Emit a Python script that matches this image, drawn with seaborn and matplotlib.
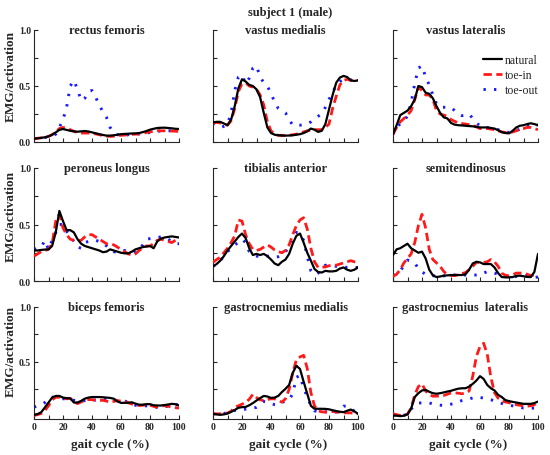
import numpy as np
import matplotlib
matplotlib.use("Agg")
import matplotlib.pyplot as plt
import seaborn as sns
from matplotlib.ticker import FixedLocator

# === Data (EMG / activation) ===
gait = np.arange(0, 100.1, 2.5)  # gait cycle (%)

rf_nat = [.030,.033,.037,.042,.050,.065,.086,.108,.116,.108,.100,.095,.092,.095,.098,.094,.086,.078,.070,.063,.057,.057,.060,.065,.070,.072,.074,.076,.077,.080,.088,.098,.110,.118,.125,.127,.128,.125,.122,.118,.116]
rf_in = [.030,.033,.037,.042,.050,.065,.090,.120,.130,.125,.110,.095,.085,.080,.080,.080,.078,.072,.065,.058,.052,.050,.052,.055,.060,.062,.065,.068,.070,.072,.078,.085,.090,.095,.100,.100,.100,.100,.098,.096,.095]
rf_out = [.030,.032,.035,.040,.045,.050,.070,.130,.200,.310,.500,.550,.470,.370,.390,.450,.460,.400,.330,.270,.220,.130,.080,.065,.060,.060,.065,.070,.070,.072,.075,.080,.085,.090,.095,.100,.100,.100,.100,.100,.100]

vm_nat = [.175,.180,.180,.165,.150,.200,.320,.480,.560,.540,.510,.500,.470,.400,.260,.130,.080,.065,.060,.058,.057,.058,.060,.065,.070,.080,.095,.120,.110,.090,.100,.160,.290,.420,.530,.575,.590,.580,.550,.545,.550]
vm_in = [.170,.175,.170,.160,.150,.190,.300,.450,.520,.530,.500,.490,.470,.420,.330,.180,.100,.070,.060,.058,.058,.060,.065,.070,.080,.090,.100,.105,.110,.110,.110,.130,.160,.300,.410,.510,.550,.560,.550,.550,.550]
vm_out = [.170,.150,.130,.140,.155,.260,.460,.580,.600,.520,.570,.660,.680,.580,.530,.500,.430,.360,.300,.280,.260,.200,.150,.150,.150,.155,.160,.180,.210,.230,.250,.310,.380,.440,.510,.540,.555,.560,.555,.550,.540]

vl_nat = [.070,.150,.240,.260,.280,.320,.380,.500,.490,.440,.430,.390,.320,.260,.220,.210,.170,.155,.150,.148,.145,.142,.140,.135,.130,.130,.130,.125,.120,.105,.088,.080,.077,.100,.130,.145,.150,.160,.167,.160,.150]
vl_in = [.070,.130,.180,.210,.240,.280,.380,.490,.460,.420,.420,.380,.280,.250,.240,.230,.200,.185,.170,.165,.160,.155,.150,.135,.120,.120,.120,.115,.110,.100,.090,.085,.080,.090,.100,.115,.120,.130,.130,.120,.110]
vl_out = [.070,.140,.160,.180,.235,.350,.520,.660,.680,.580,.510,.420,.340,.310,.310,.310,.310,.280,.250,.235,.240,.250,.210,.170,.145,.135,.130,.120,.115,.110,.100,.090,.086,.090,.100,.115,.130,.140,.160,.160,.150]

pl_nat = [.270,.270,.275,.278,.280,.310,.430,.620,.530,.450,.450,.430,.370,.330,.310,.300,.290,.280,.270,.255,.260,.280,.270,.260,.250,.245,.245,.260,.280,.290,.300,.305,.310,.290,.350,.375,.385,.390,.395,.390,.385]
pl_in = [.220,.240,.260,.270,.280,.330,.530,.590,.470,.410,.370,.360,.360,.360,.390,.410,.410,.390,.370,.350,.330,.330,.320,.300,.280,.260,.240,.230,.240,.270,.290,.310,.310,.330,.360,.370,.360,.350,.340,.360,.380]
pl_out = [.280,.290,.300,.360,.280,.360,.430,.500,.500,.440,.400,.350,.300,.290,.340,.350,.360,.360,.350,.340,.310,.280,.260,.250,.260,.270,.260,.250,.260,.270,.320,.370,.375,.380,.385,.390,.390,.370,.350,.330,.330]

ta_nat = [.130,.150,.180,.220,.270,.310,.350,.390,.420,.380,.290,.230,.240,.230,.240,.220,.190,.155,.140,.170,.190,.240,.330,.400,.420,.340,.250,.180,.106,.080,.075,.090,.085,.085,.090,.110,.120,.100,.090,.100,.120]
ta_in = [.165,.190,.210,.250,.290,.340,.400,.540,.530,.410,.330,.280,.270,.280,.300,.320,.300,.275,.260,.250,.270,.320,.410,.490,.540,.560,.460,.290,.170,.120,.120,.125,.135,.140,.140,.150,.160,.170,.180,.170,.170]
ta_out = [.130,.150,.180,.220,.260,.290,.320,.340,.370,.340,.260,.230,.220,.220,.220,.220,.220,.210,.215,.230,.260,.300,.380,.430,.420,.360,.220,.090,.055,.070,.100,.140,.135,.135,.130,.130,.125,.120,.120,.120,.120]

st_nat = [.230,.280,.290,.310,.330,.290,.270,.250,.260,.200,.100,.050,.035,.040,.047,.050,.052,.053,.053,.053,.060,.100,.155,.170,.165,.150,.150,.150,.120,.070,.035,.032,.032,.035,.045,.047,.042,.036,.035,.080,.240]
st_in = [.040,.060,.100,.160,.200,.240,.340,.490,.590,.470,.280,.190,.160,.130,.085,.055,.050,.047,.055,.065,.075,.100,.130,.165,.165,.165,.170,.190,.170,.130,.070,.050,.047,.055,.070,.070,.070,.060,.047,.055,.062]
st_out = [.047,.065,.090,.135,.185,.175,.160,.110,.080,.060,.050,.047,.043,.040,.045,.050,.053,.053,.053,.053,.053,.053,.053,.053,.055,.070,.083,.078,.070,.060,.047,.040,.033,.035,.040,.043,.045,.045,.040,.032,.035]

bf_nat = [.018,.025,.042,.085,.130,.175,.190,.190,.175,.170,.168,.130,.130,.145,.165,.175,.180,.180,.180,.178,.175,.172,.165,.140,.127,.127,.128,.132,.120,.110,.110,.115,.115,.105,.103,.103,.107,.112,.118,.115,.103]
bf_in = [.012,.020,.030,.058,.100,.155,.178,.178,.170,.164,.168,.140,.120,.135,.150,.157,.156,.150,.150,.150,.143,.133,.140,.148,.143,.138,.128,.116,.110,.103,.105,.110,.106,.095,.088,.095,.103,.096,.088,.083,.079]
bf_out = [.088,.100,.110,.130,.160,.180,.172,.166,.164,.164,.158,.150,.146,.140,.148,.156,.155,.152,.150,.155,.158,.155,.150,.150,.150,.145,.130,.113,.105,.100,.097,.100,.103,.095,.085,.080,.090,.098,.105,.110,.110]

gm_nat = [.027,.022,.018,.022,.030,.045,.062,.082,.088,.090,.105,.125,.148,.170,.190,.185,.172,.175,.190,.225,.255,.290,.400,.465,.436,.320,.210,.100,.073,.073,.073,.072,.068,.060,.052,.046,.042,.055,.066,.050,.027]
gm_in = [.027,.027,.027,.027,.035,.050,.088,.100,.115,.130,.160,.205,.175,.155,.148,.158,.164,.164,.150,.133,.165,.250,.400,.520,.545,.560,.440,.220,.100,.055,.045,.043,.045,.048,.045,.040,.036,.036,.036,.032,.027]
gm_out = [.027,.027,.027,.030,.040,.050,.058,.062,.066,.070,.076,.080,.086,.110,.140,.132,.124,.110,.105,.130,.145,.155,.210,.360,.376,.260,.185,.100,.055,.045,.042,.045,.048,.045,.042,.070,.097,.097,.080,.050,.045]

gl_nat = [.012,.010,.006,.010,.022,.075,.180,.215,.240,.245,.228,.215,.210,.215,.222,.230,.237,.247,.256,.260,.260,.275,.300,.330,.370,.345,.290,.260,.240,.200,.180,.152,.143,.136,.130,.124,.118,.118,.118,.125,.139]
gl_in = [.027,.020,.012,.015,.025,.080,.200,.275,.300,.235,.200,.188,.188,.190,.194,.205,.218,.218,.215,.210,.215,.235,.370,.550,.640,.670,.570,.360,.220,.170,.145,.135,.128,.120,.110,.105,.100,.097,.100,.110,.133]
gl_out = [.018,.015,.012,.015,.020,.070,.110,.125,.127,.127,.126,.118,.110,.106,.103,.108,.115,.122,.135,.148,.156,.163,.172,.180,.176,.170,.162,.155,.145,.133,.122,.112,.105,.100,.095,.087,.080,.079,.079,.079,.079]

muscles = ["rectus femoris", "vastus medialis", "vastus lateralis",
           "peroneus longus", "tibialis anterior", "semitendinosus",
           "biceps femoris", "gastrocnemius medialis", "gastrocnemius  lateralis"]
series = [(rf_nat, rf_in, rf_out), (vm_nat, vm_in, vm_out), (vl_nat, vl_in, vl_out),
          (pl_nat, pl_in, pl_out), (ta_nat, ta_in, ta_out), (st_nat, st_in, st_out),
          (bf_nat, bf_in, bf_out), (gm_nat, gm_in, gm_out), (gl_nat, gl_in, gl_out)]

# === Style ===
sns.set_style("ticks")
plt.rcParams["font.family"] = ["Liberation Serif", "DejaVu Serif"]
plt.rcParams["font.weight"] = "bold"

W, H = 550, 456
fig = plt.figure(figsize=(W / 100, H / 100), dpi=100)

col_left = [34, 213, 393]
row_top = [31, 169, 308]
row_bot = [143, 282, 420]
ax_w = 145

for i, (name, (nat, tin, tout)) in enumerate(zip(muscles, series)):
    r, c = divmod(i, 3)
    left, top, bot = col_left[c], row_top[r], row_bot[r]
    ax = fig.add_axes([left / W, 1 - bot / H, ax_w / W, (bot - top) / H])

    sns.lineplot(x=gait, y=tout, ax=ax, color="#1a1aff", lw=2.1,
                 linestyle=(0, (0.8, 2.8)), label="toe-out", zorder=2)
    sns.lineplot(x=gait, y=tin, ax=ax, color="#ff1a1a", lw=2.0,
                 linestyle=(0, (3.0, 1.6)), label="toe-in", zorder=3)
    sns.lineplot(x=gait, y=nat, ax=ax, color="black", lw=1.6,
                 label="natural", zorder=4)

    ax.set_xlim(0, 100)
    if r == 2:
        ax.set_ylim(-0.02, 1.0)
        ax.yaxis.set_major_locator(FixedLocator([0.5, 1.0]))
    else:
        ax.set_ylim(0, 1.0)
        ax.yaxis.set_major_locator(FixedLocator([0.0, 0.5, 1.0]))
    ax.yaxis.set_minor_locator(FixedLocator([0.25, 0.75]))
    ax.xaxis.set_major_locator(FixedLocator([0, 20, 40, 60, 80, 100]))
    ax.xaxis.set_minor_locator(FixedLocator([10, 30, 50, 70, 90]))
    ax.yaxis.set_major_formatter(matplotlib.ticker.FormatStrFormatter("%.1f"))

    sns.despine(ax=ax)
    for s in ("left", "bottom"):
        ax.spines[s].set_linewidth(0.8)
    ax.tick_params(which="both", direction="in", length=3, width=0.8,
                   labelsize=7, pad=2)
    if c != 0:
        ax.tick_params(labelleft=False)
    if r != 2:
        ax.tick_params(labelbottom=False)
    ax.set_xlabel("")
    ax.set_ylabel("")

    ax.text(0.5, 1.0, name, transform=ax.transAxes, ha="center", va="center",
            fontsize=9, fontweight="bold")

    if i == 2:
        h, l = ax.get_legend_handles_labels()
        order = [l.index("natural"), l.index("toe-in"), l.index("toe-out")]
        ax.legend([h[k] for k in order], [l[k] for k in order],
                  loc="upper left", bbox_to_anchor=(0.55, 0.88),
                  frameon=False, handlelength=1.6, handletextpad=0.2,
                  labelspacing=0.25, prop={"weight": "normal", "size": 8.5})
    elif ax.get_legend() is not None:
        ax.get_legend().remove()

fig.text(290 / W, 1 - 13 / H, "subject 1 (male)", ha="center", va="center",
         fontsize=9, fontweight="bold")

for yc in (77, 217, 352):
    fig.text(11 / W, 1 - yc / H, "EMG/activation", rotation=90, ha="center",
             va="center", fontsize=9.5, fontweight="bold")
for xc in (110, 288, 468):
    fig.text(xc / W, 1 - 445 / H, "gait cycle (%)", ha="center", va="center",
             fontsize=9.5, fontweight="bold")

fig.savefig("out.png", dpi=100)
